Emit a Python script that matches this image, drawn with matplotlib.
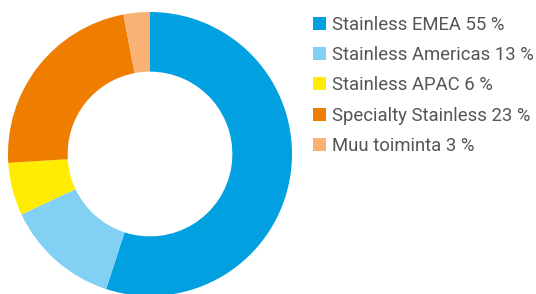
import matplotlib.pyplot as plt
from matplotlib.patches import Patch

# Data
labels = ['Stainless EMEA', 'Stainless Americas', 'Stainless APAC', 'Specialty Stainless', 'Muu toiminta']
shares = [55, 13, 6, 23, 3]
colors = ['#00a0e1', '#82d0f4', '#ffec00', '#ef7d00', '#f7b274']

plt.rcParams['font.family'] = ['Roboto', 'DejaVu Sans']

fig = plt.figure(figsize=(5.36, 2.94), dpi=100)

# Pie axes: centre about (150, 154) px, radius ~142 px
r = 142
ax = fig.add_axes([(150 - r) / 536, (140 - r) / 294, 2 * r / 536, 2 * r / 294])
ax.pie(shares, colors=colors, startangle=90, counterclock=False,
       radius=1, wedgeprops=dict(width=0.42, linewidth=0))
ax.set_xlim(-1, 1)
ax.set_ylim(-1, 1)
ax.axis('off')

handles = [Patch(facecolor=c, edgecolor='none') for c in colors]
texts = [f'{l} {s} %' for l, s in zip(labels, shares)]
leg = fig.legend(handles, texts, loc='upper left', bbox_to_anchor=(313 / 536, 1 - 16 / 294),
                 frameon=False, fontsize=13.3, handlelength=0.7, handleheight=0.7,
                 handletextpad=0.33, labelspacing=0.66, borderaxespad=0, borderpad=0)
for t in leg.get_texts():
    t.set_color('#555555')

fig.savefig('out.png', dpi=100)
